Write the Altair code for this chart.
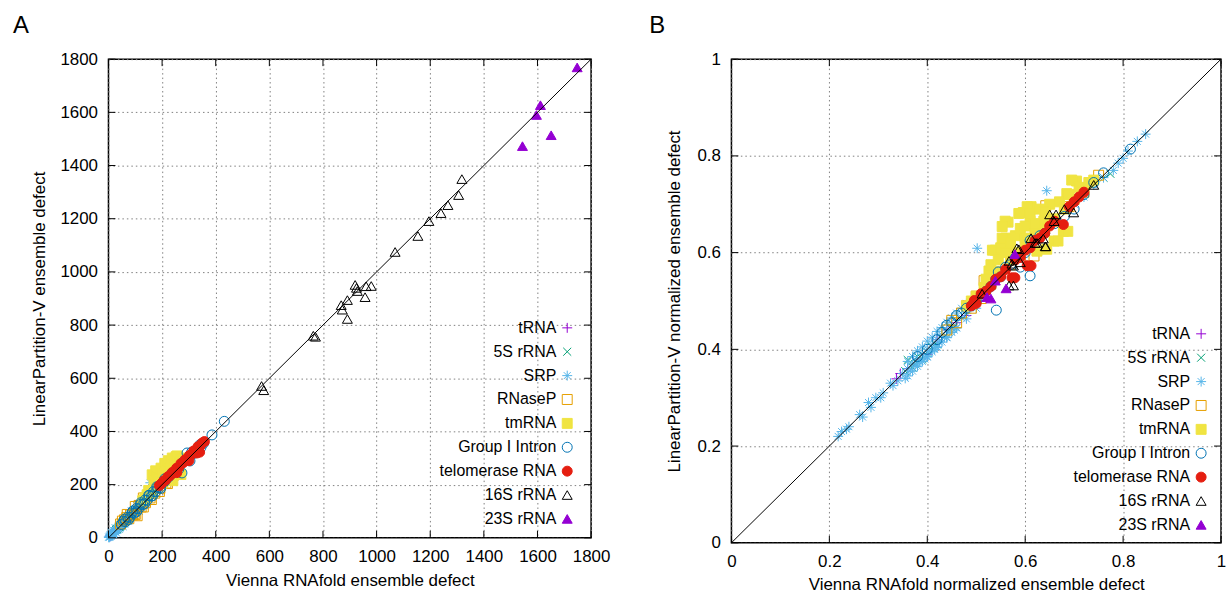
import altair as alt
import pandas as pd

categories = ["tRNA", "5S rRNA", "SRP", "RNaseP", "tmRNA", "Group I Intron",
              "telomerase RNA", "16S rRNA", "23S rRNA"]
stroke_colors = ["#9400d3", "#009e73", "#56b4e9", "#e69f00", "#f0e442",
                 "#0072b2", "#e51e10", "#000000", "#9400d3"]
fill_colors = ["transparent", "transparent", "transparent", "transparent", "#f0e442",
               "transparent", "#e51e10", "transparent", "#9400d3"]
shapes = ["M-1,0L1,0M0,-1L0,1",
          "M-0.8,-0.8L0.8,0.8M-0.8,0.8L0.8,-0.8",
          "M-1,0L1,0M0,-1L0,1M-0.7,-0.7L0.7,0.7M-0.7,0.7L0.7,-0.7",
          "square", "square", "circle", "circle", "triangle-up", "triangle-up"]

# ---------------- Panel A: absolute ensemble defect ----------------
trna_a_x = [5, 8, 11, 13, 16, 18, 21, 24, 27, 30, 34]
trna_a_y = [6, 8, 12, 12, 17, 17, 22, 23, 28, 29, 35]
s5_a_x = [28, 32, 36, 39, 42, 45, 48, 52, 56, 60, 65]
s5_a_y = [30, 33, 35, 41, 41, 47, 48, 54, 55, 62, 64]
srp_a_x = [1, 2, 4, 5, 7, 9, 10, 12, 14, 16, 18, 20, 23, 26, 29, 32, 35, 38, 42, 46,
           50, 54, 58, 63, 68, 73, 78, 84, 90, 96, 103, 110, 117, 125, 133, 141, 150,
           160, 170, 180, 156, 20, 40, 60, 10, 25, 45, 65, 85, 105, 125, 145, 30, 55,
           75, 95, 115, 135]
srp_a_y = [3, 1, 6, 3, 9, 6, 13, 9, 17, 13, 21, 17, 26, 23, 33, 29, 39, 35, 46, 43,
           54, 50, 62, 59, 72, 69, 81, 80, 94, 92, 107, 105, 120, 121, 137, 137, 154,
           158, 168, 178, 207, 12, 33, 52, 22, 38, 60, 80, 102, 122, 142, 160, 18, 42,
           62, 82, 100, 120]
rnasep_a_x = [45, 52, 60, 68, 76, 82, 90, 96, 107, 114, 122, 130, 138, 146, 155, 164,
              173, 182, 192, 202, 214, 228, 242, 256, 70, 100, 130, 160, 190, 220, 100,
              130, 160, 190, 220]
rnasep_a_y = [52, 63, 68, 76, 72, 86, 86, 90, 83, 122, 116, 138, 132, 154, 150, 172,
              168, 190, 186, 210, 206, 236, 235, 262, 88, 118, 150, 178, 208, 240, 88,
              116, 144, 174, 204]
tmrna_a_x = [128, 136, 144, 150, 158, 163, 170, 176, 183, 190, 196, 203, 210, 216, 223,
             230, 238, 245, 252, 256, 262, 270, 278, 286, 240, 270, 160, 200]
tmrna_a_y = [140, 150, 162, 178, 175, 237, 200, 252, 230, 222, 262, 240, 280, 250, 290,
             262, 300, 276, 305, 308, 285, 292, 298, 300, 215, 238, 170, 205]
group1_a_x = [48, 56, 64, 72, 80, 88, 96, 104, 112, 120, 128, 136, 144, 152, 160, 168,
              176, 184, 192, 200, 210, 222, 236, 250, 262, 274, 278, 293, 304, 310,
              320, 341, 345, 355, 386, 432, 60, 90, 120, 150, 180, 210, 75, 105, 135,
              165, 195]
group1_a_y = [50, 62, 61, 78, 77, 94, 93, 110, 109, 126, 125, 142, 141, 158, 157, 174,
              173, 190, 189, 206, 212, 226, 242, 252, 258, 244, 285, 319, 289, 322,
              318, 350, 340, 356, 387, 438, 70, 100, 132, 160, 192, 222, 68, 98, 128,
              158, 186]
telo_a_x = [190, 198, 206, 214, 222, 230, 238, 246, 254, 262, 270, 278, 286, 294, 302,
            310, 318, 326, 334, 342, 350, 358, 330, 340, 255, 300]
telo_a_y = [197, 204, 214, 218, 230, 234, 246, 250, 262, 265, 279, 282, 294, 298, 310,
            314, 327, 330, 343, 346, 357, 362, 319, 322, 245, 290]
s16_a_x = [571, 579, 764, 772, 868, 872, 891, 891, 920, 928, 957, 961, 980, 925, 1069,
           1154, 1195, 1240, 1266, 1306, 1318]
s16_a_y = [571, 555, 760, 756, 875, 858, 823, 894, 951, 928, 905, 946, 947, 940, 1075,
           1135, 1191, 1221, 1251, 1289, 1349]
s23_a_x = [1544, 1596, 1611, 1651, 1748]
s23_a_y = [1473, 1590, 1627, 1514, 1769]

# ---------------- Panel B: normalized ensemble defect ----------------
trna_b_x = [0.337, 0.345, 0.36, 0.38, 0.40, 0.42, 0.44, 0.46, 0.48, 0.50]
trna_b_y = [0.339, 0.350, 0.36, 0.38, 0.39, 0.42, 0.44, 0.455, 0.47, 0.50]
s5_b_x = [0.355, 0.36, 0.37, 0.375, 0.38, 0.39, 0.40, 0.41, 0.42, 0.45, 0.774, 0.76]
s5_b_y = [0.355, 0.378, 0.362, 0.37, 0.385, 0.38, 0.395, 0.405, 0.41, 0.445, 0.763, 0.755]
srp_b_x = [0.218, 0.225, 0.235, 0.24, 0.262, 0.268, 0.28, 0.285, 0.295, 0.305, 0.31,
           0.325, 0.33, 0.34, 0.35, 0.355, 0.36, 0.365, 0.37, 0.375, 0.38, 0.385,
           0.39, 0.395, 0.40, 0.405, 0.41, 0.415, 0.42, 0.425, 0.43, 0.435, 0.44,
           0.445, 0.45, 0.455, 0.46, 0.47, 0.48, 0.49, 0.50, 0.51, 0.52, 0.502, 0.644,
           0.55, 0.60, 0.70, 0.72, 0.74, 0.76, 0.78, 0.79, 0.80, 0.81, 0.829, 0.846,
           0.39, 0.40, 0.41, 0.42, 0.43, 0.44, 0.45, 0.46, 0.38, 0.37,
           0.36, 0.37, 0.38, 0.39, 0.40, 0.41, 0.42, 0.43, 0.44, 0.45, 0.46, 0.47, 0.48,
           0.36, 0.38, 0.40, 0.42, 0.44, 0.46, 0.48, 0.50]
srp_b_y = [0.22, 0.23, 0.235, 0.24, 0.265, 0.26, 0.29, 0.28, 0.30, 0.30, 0.31,
           0.33, 0.325, 0.335, 0.35, 0.34, 0.36, 0.355, 0.37, 0.365, 0.38, 0.375,
           0.39, 0.38, 0.40, 0.395, 0.41, 0.40, 0.42, 0.415, 0.43, 0.425, 0.44,
           0.435, 0.45, 0.44, 0.46, 0.465, 0.475, 0.49, 0.50, 0.505, 0.515, 0.609, 0.728,
           0.55, 0.60, 0.70, 0.715, 0.74, 0.755, 0.77, 0.785, 0.795, 0.81, 0.830, 0.845,
           0.375, 0.385, 0.395, 0.405, 0.415, 0.425, 0.435, 0.445, 0.37, 0.355,
           0.375, 0.385, 0.397, 0.405, 0.417, 0.425, 0.437, 0.445, 0.456, 0.465, 0.475,
           0.485, 0.495, 0.345, 0.365, 0.384, 0.404, 0.424, 0.444, 0.463, 0.485]
rnasep_b_x = [0.44, 0.45, 0.46, 0.47, 0.48, 0.49, 0.50, 0.51, 0.516, 0.53, 0.55, 0.57,
              0.59, 0.618, 0.642, 0.66, 0.69, 0.72, 0.75]
rnasep_b_y = [0.44, 0.46, 0.455, 0.475, 0.49, 0.485, 0.51, 0.505, 0.542, 0.535, 0.56,
              0.575, 0.59, 0.593, 0.697, 0.665, 0.695, 0.725, 0.76]
tmrna_b_x = [0.705, 0.695, 0.685, 0.612, 0.604, 0.596, 0.587, 0.565, 0.559, 0.553,
             0.561, 0.553, 0.539, 0.533, 0.610, 0.638, 0.659, 0.678, 0.687, 0.667,
             0.644, 0.624, 0.526, 0.516, 0.50, 0.49, 0.48, 0.58, 0.60, 0.62, 0.64,
             0.66, 0.70, 0.72, 0.74, 0.57, 0.54,
             0.52, 0.53, 0.545, 0.55, 0.57, 0.58, 0.59, 0.60, 0.61, 0.63, 0.65, 0.67,
             0.69, 0.71, 0.73, 0.56, 0.62, 0.64, 0.68, 0.60]
tmrna_b_y = [0.748, 0.750, 0.722, 0.695, 0.695, 0.683, 0.681, 0.663, 0.665, 0.654,
             0.630, 0.630, 0.605, 0.605, 0.665, 0.665, 0.624, 0.644, 0.644, 0.624,
             0.607, 0.603, 0.562, 0.528, 0.51, 0.50, 0.49, 0.60, 0.62, 0.64, 0.65,
             0.67, 0.71, 0.73, 0.75, 0.585, 0.56,
             0.545, 0.575, 0.585, 0.61, 0.62, 0.635, 0.65, 0.655, 0.68, 0.69, 0.70,
             0.705, 0.72, 0.735, 0.745, 0.60, 0.66, 0.685, 0.69, 0.63]
group1_b_x = [0.38, 0.40, 0.42, 0.43, 0.44, 0.45, 0.46, 0.47, 0.48, 0.49, 0.50, 0.51,
              0.52, 0.53, 0.54, 0.55, 0.56, 0.57, 0.58, 0.60, 0.61, 0.62, 0.63, 0.64,
              0.66, 0.68, 0.70, 0.72, 0.74, 0.76, 0.815, 0.610, 0.541, 0.545, 0.59]
group1_b_y = [0.385, 0.40, 0.42, 0.435, 0.45, 0.455, 0.47, 0.475, 0.485, 0.49, 0.50,
              0.51, 0.52, 0.53, 0.545, 0.55, 0.57, 0.575, 0.59, 0.60, 0.625, 0.625,
              0.635, 0.64, 0.66, 0.675, 0.69, 0.72, 0.745, 0.765, 0.814, 0.552, 0.481,
              0.56, 0.57]
telo_b_x = [0.49, 0.496, 0.50, 0.51, 0.52, 0.53, 0.54, 0.55, 0.56, 0.573, 0.58, 0.59,
            0.60, 0.604, 0.61, 0.62, 0.63, 0.64, 0.65, 0.66, 0.678, 0.69, 0.70, 0.71,
            0.72, 0.579, 0.612]
telo_b_y = [0.49, 0.501, 0.495, 0.515, 0.52, 0.53, 0.545, 0.55, 0.565, 0.548, 0.585,
            0.59, 0.605, 0.573, 0.61, 0.625, 0.63, 0.64, 0.655, 0.665, 0.658, 0.695,
            0.705, 0.715, 0.725, 0.548, 0.573]
s16_b_x = [0.740, 0.699, 0.68, 0.663, 0.650, 0.659, 0.642, 0.637, 0.641, 0.624, 0.612,
           0.587, 0.583, 0.573, 0.576, 0.567, 0.59, 0.576, 0.567, 0.512, 0.62]
s16_b_y = [0.740, 0.683, 0.69, 0.679, 0.679, 0.665, 0.613, 0.629, 0.613, 0.62, 0.63,
           0.607, 0.609, 0.577, 0.532, 0.583, 0.58, 0.573, 0.532, 0.515, 0.62]
s23_b_x = [0.522, 0.530, 0.539, 0.561, 0.579]
s23_b_y = [0.508, 0.505, 0.542, 0.526, 0.597]

ticks_a = [0, 200, 400, 600, 800, 1000, 1200, 1400, 1600, 1800]
ticks_b = [0, 0.2, 0.4, 0.6, 0.8, 1]
diag_a = [0, 1800]
diag_b = [0, 1]

FONT = "Liberation Sans"


def make_frame(series):
    rows = []
    for name, xs, ys in series:
        for a, b in zip(xs, ys):
            rows.append({"type": name, "x": a, "y": b})
    return pd.DataFrame(rows)


df_a = make_frame([
    ("tRNA", trna_a_x, trna_a_y), ("5S rRNA", s5_a_x, s5_a_y), ("SRP", srp_a_x, srp_a_y),
    ("RNaseP", rnasep_a_x, rnasep_a_y), ("tmRNA", tmrna_a_x, tmrna_a_y),
    ("Group I Intron", group1_a_x, group1_a_y), ("telomerase RNA", telo_a_x, telo_a_y),
    ("16S rRNA", s16_a_x, s16_a_y), ("23S rRNA", s23_a_x, s23_a_y)])
df_b = make_frame([
    ("tRNA", trna_b_x, trna_b_y), ("5S rRNA", s5_b_x, s5_b_y), ("SRP", srp_b_x, srp_b_y),
    ("RNaseP", rnasep_b_x, rnasep_b_y), ("tmRNA", tmrna_b_x, tmrna_b_y),
    ("Group I Intron", group1_b_x, group1_b_y), ("telomerase RNA", telo_b_x, telo_b_y),
    ("16S rRNA", s16_b_x, s16_b_y), ("23S rRNA", s23_b_x, s23_b_y)])


def panel(df, ticks, diag, w, h, xtitle, ytitle, label, title_offset, leg_x, leg_y,
          title_dx, ytitle_pad, xtitle_pad, fmt):
    dmin, dmax = ticks[0], ticks[-1]
    xs = alt.Scale(domain=[dmin, dmax], nice=False, zero=False)
    ys = alt.Scale(domain=[dmin, dmax], nice=False, zero=False)
    legend = alt.Legend(title=None, orient="none", legendX=leg_x, legendY=leg_y,
                        direction="vertical", labelAlign="right",
                        labelOffset={"expr": "-19"},
                        labelFont=FONT, labelFontSize=16, labelColor="black",
                        symbolSize=100, symbolStrokeWidth=1, rowPadding=8,
                        padding=0, labelLimit=300)
    axis_common = dict(grid=True, ticks=False, domain=False, labelFont=FONT,
                       labelFontSize=17, labelColor="black", titleFont=FONT,
                       titleFontSize=17, titleFontWeight="normal", titleColor="black",
                       gridColor="#808080", gridDash=[1.5, 3], gridWidth=1,
                       values=ticks, labelPadding=11, format=fmt, labelOverlap=False,
                       labelFlush=False)
    xaxis = alt.Axis(title=xtitle, titlePadding=xtitle_pad, **axis_common)
    yaxis = alt.Axis(title=ytitle, titlePadding=ytitle_pad, **axis_common)
    pts = alt.Chart(df).mark_point(size=100, strokeWidth=1, opacity=1).encode(
        x=alt.X("x:Q", scale=xs, axis=xaxis),
        y=alt.Y("y:Q", scale=ys, axis=yaxis),
        shape=alt.Shape("type:N", scale=alt.Scale(domain=categories, range=shapes),
                        legend=legend),
        stroke=alt.Stroke("type:N", scale=alt.Scale(domain=categories, range=stroke_colors),
                          legend=legend),
        fill=alt.Fill("type:N", scale=alt.Scale(domain=categories, range=fill_colors),
                      legend=legend),
    )
    line = alt.Chart(pd.DataFrame({"x": diag, "y": diag})).mark_line(
        color="black", strokeWidth=1).encode(
        x=alt.X("x:Q", scale=xs, axis=xaxis), y=alt.Y("y:Q", scale=ys, axis=yaxis))
    tdf = pd.DataFrame({"x": ticks, "y": ticks})
    tb = alt.Chart(tdf).mark_rule(color="black", strokeWidth=1).encode(
        x=alt.X("x:Q", scale=xs, axis=xaxis), y=alt.value(h), y2=alt.value(h - 7))
    tt = alt.Chart(tdf).mark_rule(color="black", strokeWidth=1).encode(
        x=alt.X("x:Q", scale=xs, axis=xaxis), y=alt.value(0), y2=alt.value(7))
    tl = alt.Chart(tdf).mark_rule(color="black", strokeWidth=1).encode(
        y=alt.Y("y:Q", scale=ys, axis=yaxis), x=alt.value(0), x2=alt.value(7))
    tr = alt.Chart(tdf).mark_rule(color="black", strokeWidth=1).encode(
        y=alt.Y("y:Q", scale=ys, axis=yaxis), x=alt.value(w), x2=alt.value(w - 7))
    return alt.layer(pts, line, tb, tt, tl, tr).properties(
        width=w, height=h,
        title=alt.TitleParams(label, anchor="start", frame="bounds", fontSize=24,
                              fontWeight="normal", font=FONT, color="black",
                              offset=title_offset, dx=title_dx),
    )


chart_a = panel(df_a, ticks_a, diag_a, 485, 481, "Vienna RNAfold ensemble defect",
                "LinearPartition-V ensemble defect", "A", 12, 453, 262, -18, 11, 8, "d")
chart_b = panel(df_b, ticks_b, diag_b, 492, 486,
                "Vienna RNAfold normalized ensemble defect",
                "LinearPartition-V normalized ensemble defect", "B", 12, 464, 268, -16, 14,
                7, "~g")

chart = alt.concat(chart_a, chart_b, columns=2, spacing=37, align="none").resolve_scale(
    shape="independent", stroke="independent", fill="independent"
).resolve_legend(
    shape="independent", stroke="independent", fill="independent"
).configure_view(stroke="black", strokeWidth=1.5).properties(
    padding={"left": 12, "top": 12, "right": 0, "bottom": 0},
    background="white",
)

chart.save("out.html", embed_options={"renderer": "svg", "actions": False})
